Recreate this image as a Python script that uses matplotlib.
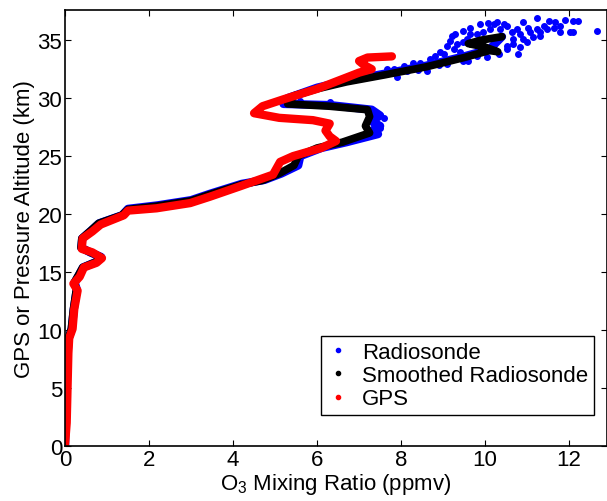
import numpy as np
import matplotlib.pyplot as plt
from matplotlib.lines import Line2D

plt.rcParams['font.family'] = ['Liberation Sans', 'DejaVu Sans']
plt.rcParams['mathtext.fontset'] = 'custom'
plt.rcParams['mathtext.rm'] = 'Liberation Sans'
plt.rcParams['mathtext.it'] = 'Liberation Sans'

# raw radiosonde profile (ppmv, km)
sonde_x = [0.0, 0.03, 0.05, 0.09, 0.16, 0.21, 0.28, 0.23, 0.34, 0.43, 0.76, 0.86, 0.6, 0.39,
           0.41, 0.63, 0.81, 1.36, 1.5, 2.2, 3.0, 3.45, 4.2, 4.75, 5.15, 5.55, 5.6, 6.1, 6.7,
           7.45, 7.35, 7.5, 7.3, 7.5, 7.3, 6.3, 5.2, 5.3, 6.0, 6.7, 7.6, 8.6, 9.5, 10.1, 10.4]
sonde_y = [0.0, 4.0, 7.5, 9.3, 10.1, 11.8, 13.5, 14.1, 14.8, 15.4, 15.9, 16.3, 16.7, 17.1,
           17.9, 18.6, 19.2, 19.9, 20.45, 20.75, 21.2, 21.75, 22.6, 22.95, 23.5, 24.2, 25.0,
           25.7, 26.2, 26.9, 27.3, 27.6, 28.0, 28.5, 29.0, 29.4, 29.5, 30.0, 30.9, 31.5, 32.1,
           32.8, 33.6, 34.2, 35.3]
# scattered radiosonde samples near the top
scat_x = [11.23, 10.29, 10.06, 10.91, 11.51, 11.67, 11.90, 12.10, 12.22, 12.02, 12.10, 11.79,
          12.67, 11.39, 11.23, 11.03, 10.75, 10.52, 10.44, 10.20, 9.88, 9.64, 9.48, 9.29, 9.21,
          9.80, 9.48, 9.09, 9.25, 9.40, 8.93, 8.81, 8.69, 8.45, 8.29, 8.06, 7.82, 7.66, 7.90,
          8.14, 8.61, 9.09, 9.48, 9.80, 10.04, 10.32, 10.52, 10.67, 10.83, 10.99, 11.15, 11.31,
          10.79, 10.52, 10.83, 11.07, 11.47, 11.63, 11.79, 10.63, 10.36, 10.12, 9.96, 9.64,
          9.56, 9.33, 9.17, 9.01, 9.88, 10.12, 10.28, 10.67, 10.91, 11.31, 8.4, 8.9, 9.6,
          7.3, 7.0, 6.6, 6.2, 5.8, 5.4, 5.6, 6.3, 7.5, 7.6]
scat_y = [36.95, 36.58, 36.47, 36.58, 36.67, 36.58, 36.75, 36.67, 36.61, 35.72, 35.72, 35.72,
          35.75, 36.24, 35.95, 36.09, 35.95, 36.24, 36.38, 36.38, 36.38, 36.09, 35.80, 35.52,
          35.37, 35.52, 34.80, 34.51, 34.22, 33.94, 33.94, 33.65, 33.36, 33.07, 33.07, 32.79,
          32.50, 32.50, 31.78, 32.36, 32.36, 32.93, 33.22, 33.65, 33.51, 33.79, 34.22, 34.66,
          34.37, 34.80, 35.23, 35.37, 33.79, 34.51, 35.52, 35.66, 35.95, 36.09, 36.24, 35.66,
          35.95, 35.95, 35.66, 35.52, 35.09, 34.66, 34.94, 33.79, 34.51, 34.22, 35.09, 35.09,
          35.09, 35.66, 32.4, 32.9, 33.2, 31.9, 31.7, 31.4, 31.1, 30.7, 30.1, 29.75, 29.7,
          27.4, 28.3]

# smoothed radiosonde
smooth_x = [0.0, 0.03, 0.05, 0.08, 0.15, 0.2, 0.27, 0.22, 0.33, 0.42, 0.75, 0.85, 0.6, 0.38,
            0.4, 0.62, 0.8, 1.35, 1.5, 2.2, 3.0, 3.45, 4.2, 4.7, 5.1, 5.45, 5.55, 6.0, 6.6,
            7.25, 7.15, 7.25, 7.2, 6.3, 5.3, 5.45, 6.0, 6.7, 7.6, 8.6, 9.5, 10.1, 10.3, 10.0,
            9.6, 9.9, 10.4]
smooth_y = [0.0, 4.0, 7.5, 9.3, 10.1, 11.8, 13.5, 14.1, 14.8, 15.4, 15.9, 16.3, 16.7, 17.1,
            17.9, 18.6, 19.2, 19.9, 20.4, 20.7, 21.15, 21.7, 22.55, 22.9, 23.5, 24.2, 25.0,
            25.7, 26.2, 27.0, 27.6, 28.4, 29.0, 29.3, 29.5, 30.2, 30.8, 31.4, 32.0, 32.7, 33.5,
            34.1, 34.0, 34.4, 34.7, 35.0, 35.3]

# GPS
gps_x = [0.0, 0.04, 0.06, 0.08, 0.1, 0.18, 0.22, 0.3, 0.2, 0.35, 0.45, 0.75, 0.88, 0.65, 0.4,
         0.42, 0.65, 0.85, 1.4, 1.5, 2.18, 2.98, 3.45, 4.17, 4.95, 5.12, 5.43, 6.1, 6.45, 6.3,
         6.2, 6.3, 5.9, 5.1, 4.5, 4.7, 5.2, 6.0, 7.0, 7.3, 7.1, 7.0, 7.2, 7.78]
gps_y = [0.1, 2.0, 5.0, 8.0, 9.3, 10.1, 11.8, 13.4, 14.0, 14.6, 15.4, 15.8, 16.2, 16.7, 17.0,
         17.9, 18.5, 19.1, 19.9, 20.3, 20.5, 20.95, 21.5, 22.4, 23.4, 24.5, 25.0, 25.7, 26.3,
         26.7, 27.2, 27.8, 28.1, 28.3, 28.7, 29.3, 29.9, 30.8, 32.2, 32.5, 32.9, 33.2, 33.5,
         33.6]

fig = plt.figure(figsize=(6.07, 5.02), dpi=100)
ax = fig.add_axes([65/607, 55/502, 542/607, 436/502])

ax.plot(sonde_x, sonde_y, color='blue', lw=6, solid_capstyle='round', solid_joinstyle='round')
ax.plot(scat_x, scat_y, ls='none', marker='o', ms=4, color='blue', mec='blue')
ax.plot(smooth_x, smooth_y, color='black', lw=5.5, solid_capstyle='round', solid_joinstyle='round')
ax.plot(gps_x, gps_y, color='red', lw=6, solid_capstyle='round', solid_joinstyle='round')

ax.set_xlim(0, 12.9)
ax.set_ylim(0, 37.6)
ax.set_xticks(np.arange(0, 13, 2))
ax.set_yticks(np.arange(0, 36, 5))
ax.tick_params(direction='in', top=True, right=True, labelsize=16, length=4, pad=2)
for s in ax.spines.values():
    s.set_linewidth(1.2)
ax.set_xlabel('O$_3$ Mixing Ratio (ppmv)', fontsize=16, labelpad=1)
ax.set_ylabel('GPS or Pressure Altitude (km)', fontsize=16, labelpad=2)

handles = [Line2D([], [], ls='none', marker='.', ms=6, color=c) for c in ('blue', 'black', 'red')]
leg = ax.legend(handles, ['Radiosonde', 'Smoothed Radiosonde', 'GPS'], loc='lower right',
                bbox_to_anchor=(0.976, 0.071), fontsize=16, fancybox=False, framealpha=1,
                edgecolor='black', handlelength=1.0, handletextpad=0.6, borderpad=0.25,
                labelspacing=0.1, borderaxespad=0)
leg.get_frame().set_linewidth(1.0)

fig.savefig('out.png', dpi=100)
